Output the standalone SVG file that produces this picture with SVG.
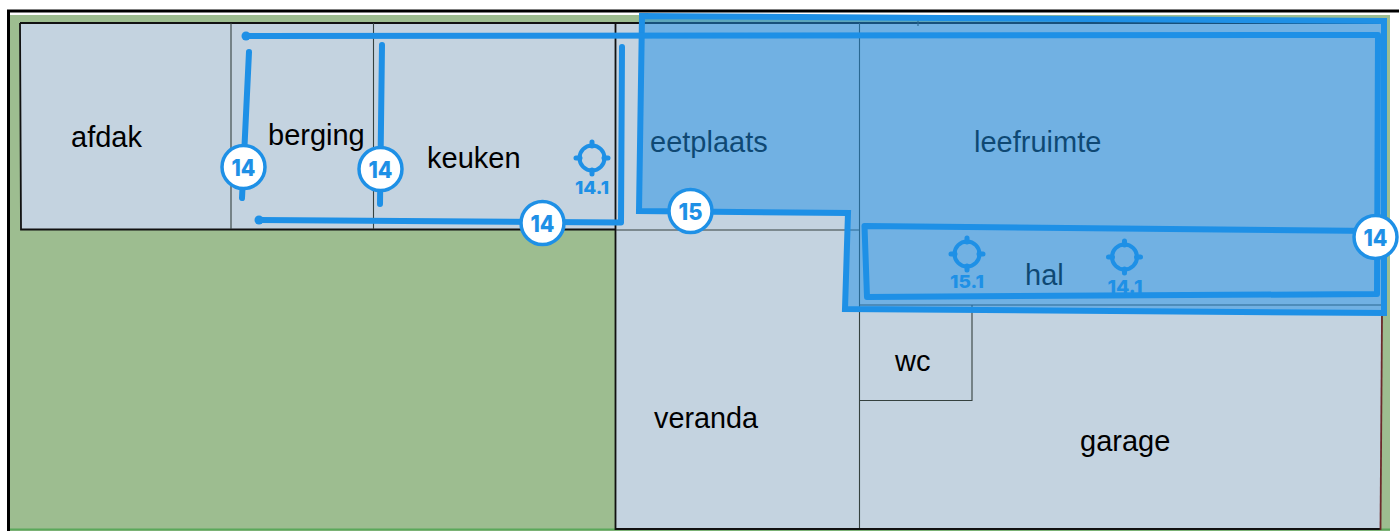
<svg xmlns="http://www.w3.org/2000/svg" width="1399" height="531" viewBox="0 0 1399 531">
<style>
.lbl{font:29px "Liberation Sans",Arial,sans-serif;fill:#000}
.room{fill:#c4d3e0}
.wall{fill:none;stroke:#35413f;stroke-width:1.100}
.outer{fill:none;stroke:#111;stroke-width:1.800}
.ln{fill:none;stroke:#1e90e6;stroke-width:6;stroke-linecap:round;stroke-linejoin:round}
.bg{fill:#fff;stroke:#1e90e6;stroke-width:3.500}
.bt{font:800 23px Inter,"Liberation Sans",sans-serif;fill:#1e90e6;text-anchor:middle}
.tt{font:800 18px Inter,"Liberation Sans",sans-serif;fill:#1e90e6;text-anchor:middle}
.ring{fill:none;stroke:#1e90e6;stroke-width:4}
.tick{fill:none;stroke:#1e90e6;stroke-width:5;stroke-linecap:round}
</style>
<defs>
<g id="target">
<circle class="ring" r="12.500"/>
<path class="tick" d="M0-16V-12M0 16V12M-16 0H-12M16 0H12"/>
</g>
</defs>
<rect width="1399" height="531" fill="#fff"/>
<rect x="9" y="15" width="1381" height="516" fill="#9dbd90"/>
<path d="M9 529.500H1390" stroke="#5aa85a" stroke-width="2" fill="none"/>
<path d="M8.500 531V11H1399" fill="none" stroke="#000" stroke-width="3"/>
<g id="plan">
<rect class="room" x="20" y="23" width="596" height="206"/>
<rect class="room" x="616" y="23" width="765" height="506"/>
<path class="outer" d="M20 23H1382M20 23L21 229.500H616M615.500 23V529H1381"/>
<path class="wall" d="M231 23V229M373.500 23V229M859.500 23V528M616 230H860M860 305H1382M972 305V400.500H859.500M918 20V26"/>
<path d="M1382 316L1380.500 530" fill="none" stroke="#6b2a2a" stroke-width="1.800"/>
</g>
<g id="afdak"><text class="lbl" x="71" y="147">afdak</text></g>
<g id="berging"><text class="lbl" x="268" y="145">berging</text></g>
<g id="keuken"><text class="lbl" x="427" y="168">keuken</text></g>
<g id="eetplaats"><text class="lbl" x="650" y="152">eetplaats</text></g>
<g id="leefruimte"><text class="lbl" x="974" y="152">leefruimte</text></g>
<g id="hal"><text class="lbl" x="1025" y="285">hal</text></g>
<g id="wc"><text class="lbl" x="895" y="371">wc</text></g>
<g id="veranda"><text class="lbl" x="654" y="427.500" textLength="104" lengthAdjust="spacingAndGlyphs">veranda</text></g>
<g id="garage"><text class="lbl" x="1080" y="451">garage</text></g>
<g id="zone-15">
<path d="M642 16L1384 21L1384 313L845 309L848 213L639 211Z" fill="#1e90e6" fill-opacity=".5" stroke="#1e90e6" stroke-width="6"/>
</g>
<g id="connectors">
<path class="ln" d="M246 36L1378 35L1377 294L867 297L864.500 226L1375 231"/>
<path class="ln" d="M249 52L242 198"/>
<path class="ln" d="M382 45L380 204"/>
<path class="ln" d="M622 47L621 222.500L259 220"/>
<circle cx="246" cy="36" r="4.500" fill="#1e90e6"/>
<circle cx="259" cy="220" r="4.500" fill="#1e90e6"/>
</g>
<g id="badge-14a"><circle class="bg" cx="243.500" cy="167" r="21.500"/><text class="bt" x="243.500" y="175.500" textLength="24" lengthAdjust="spacingAndGlyphs">14</text></g>
<g id="badge-14b"><circle class="bg" cx="380.500" cy="169" r="21.500"/><text class="bt" x="380.500" y="177.500" textLength="24" lengthAdjust="spacingAndGlyphs">14</text></g>
<g id="badge-14c"><circle class="bg" cx="542.500" cy="223" r="21.500"/><text class="bt" x="542.500" y="231.500" textLength="24" lengthAdjust="spacingAndGlyphs">14</text></g>
<g id="badge-15"><circle class="bg" cx="690.500" cy="211" r="21.500"/><text class="bt" x="690.500" y="219.500" textLength="24" lengthAdjust="spacingAndGlyphs">15</text></g>
<g id="badge-14d"><circle class="bg" cx="1375.500" cy="237" r="21.500"/><text class="bt" x="1375.500" y="245.500" textLength="24" lengthAdjust="spacingAndGlyphs">14</text></g>
<g id="target-a"><use href="#target" x="592" y="158"/><text class="tt" x="592" y="194" textLength="34" lengthAdjust="spacingAndGlyphs">14.1</text></g>
<g id="target-b"><use href="#target" x="967" y="254"/><text class="tt" x="967" y="288" textLength="34" lengthAdjust="spacingAndGlyphs">15.1</text></g>
<g id="target-c"><use href="#target" x="1124.500" y="257"/><text class="tt" x="1125" y="293" textLength="35" lengthAdjust="spacingAndGlyphs">14.1</text></g>
</svg>
